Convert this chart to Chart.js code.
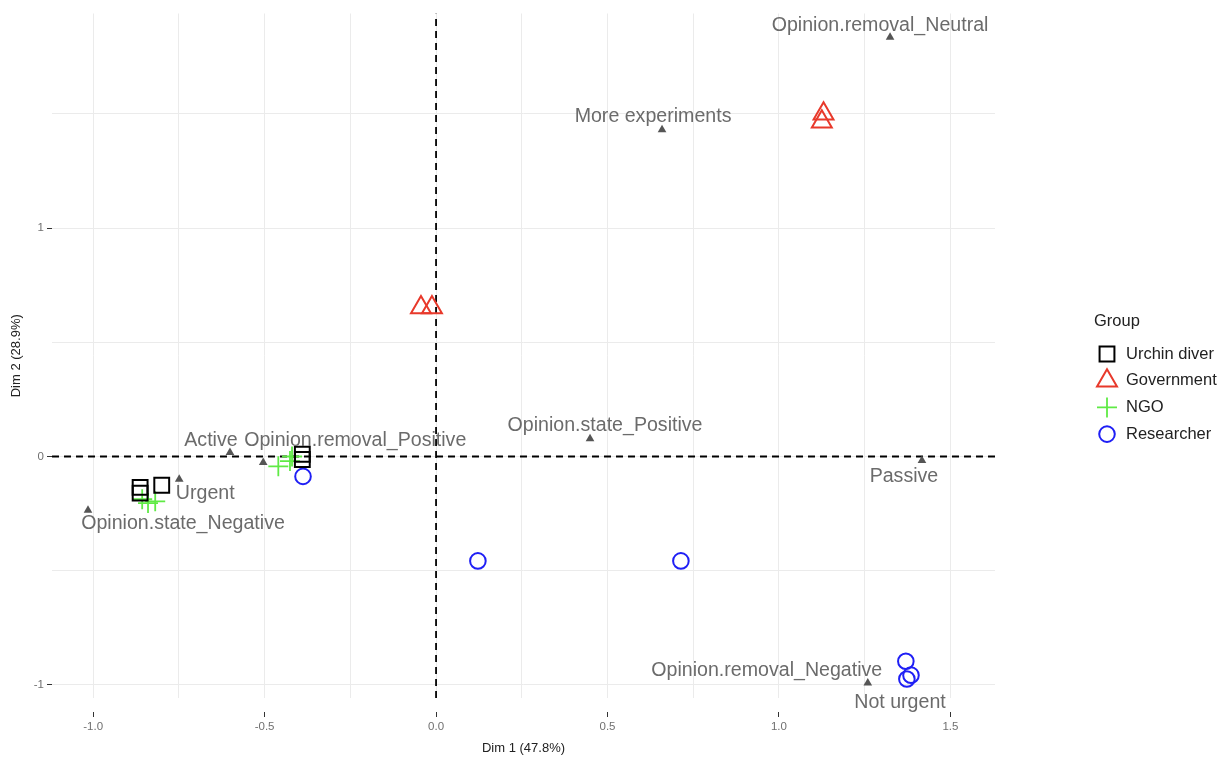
<!DOCTYPE html>
<html>
<head>
<meta charset="utf-8">
<script src="https://cdn.jsdelivr.net/npm/chart.js@4.4.1/dist/chart.umd.min.js"></script>
<style>
  html, body { margin: 0; padding: 0; background: #fff; }
  #wrap { width: 1225px; height: 761px; position: relative; }
</style>
</head>
<body>
<div id="wrap"><canvas id="pca"></canvas></div>
<script>
// individuals (Dim 1, Dim 2), one pair of arrays per group
const urchinX = [-0.863, -0.863, -0.800, -0.390, -0.390];
const urchinY = [-0.135, -0.160, -0.126, 0.010, -0.013];
const govX = [1.130, 1.125, -0.044, -0.012];
const govY = [1.500, 1.465, 0.652, 0.652];
const ngoX = [-0.857, -0.840, -0.819, -0.460, -0.426, -0.420];
const ngoY = [-0.187, -0.204, -0.196, -0.043, -0.020, 0.000];
const resX = [-0.388, 0.122, 0.714, 1.370, 1.385, 1.373];
const resY = [-0.087, -0.457, -0.457, -0.896, -0.957, -0.974];

// variable categories
const varNames = ["Opinion.removal_Neutral", "More experiments", "Opinion.state_Positive", "Passive",
  "Active", "Opinion.removal_Positive", "Urgent", "Opinion.state_Negative",
  "Opinion.removal_Negative", "Not urgent"];
const varX = [1.324, 0.659, 0.449, 1.417, -0.601, -0.504, -0.749, -1.015, 1.259, 1.315];
const varY = [1.835, 1.430, 0.078, -0.017, 0.017, -0.026, -0.100, -0.235, -0.991, -1.117];

// label nudges (px) so the texts sit like the repelled labels
const labelDx = [-10, -9, 15, -18, -19, 92, 26, 95, -101, 13];
const labelDy = [-12, -13, -13, 16, -12, -22, 14, 13, -12, -9];

const xTicks = [-1.0, -0.5, 0.0, 0.5, 1.0, 1.5];
const yTicks = [-1, 0, 1];
const xGrid = [-1, -0.75, -0.5, -0.25, 0, 0.25, 0.5, 0.75, 1, 1.25, 1.5];
const yGrid = [-1, -0.5, 0, 0.5, 1, 1.5];
const xRange = [-1.12, 1.63];
const yRange = [-1.057, 1.939];

const pts = (xs, ys) => xs.map((x, i) => ({ x: x, y: ys[i] }));

const groups = [
  { label: "Urchin diver", data: pts(urchinX, urchinY), color: "#000000", style: "rect", r: 10.5, w: 2 },
  { label: "Government", data: pts(govX, govY), color: "#e8392b", style: "triangle", r: 11.5, w: 2 },
  { label: "NGO", data: pts(ngoX, ngoY), color: "#5fea45", style: "cross", r: 10, w: 1.8 },
  { label: "Researcher", data: pts(resX, resY), color: "#1f1ff5", style: "circle", r: 7.8, w: 2 }
];

const datasets = groups.map(g => ({
  label: g.label,
  data: g.data,
  pointStyle: g.style,
  pointRadius: g.r,
  pointBorderWidth: g.w,
  pointBorderColor: g.color,
  pointBackgroundColor: "rgba(0,0,0,0)"
}));

datasets.push({
  label: "variables",
  data: pts(varX, varY),
  pointStyle: "triangle",
  pointRadius: 5,
  pointBorderWidth: 0,
  pointBackgroundColor: "#555555",
  clip: false
});
datasets.push({
  label: "h0",
  data: [{ x: xRange[0], y: 0 }, { x: xRange[1], y: 0 }],
  showLine: true, pointRadius: 0, borderColor: "#000", borderWidth: 1.8, borderDash: [7, 5]
});
datasets.push({
  label: "v0",
  data: [{ x: 0, y: yRange[0] }, { x: 0, y: yRange[1] }],
  showLine: true, pointRadius: 0, borderColor: "#000", borderWidth: 1.8, borderDash: [7, 5]
});

const VAR_INDEX = 4;

const varLabels = {
  id: "varLabels",
  afterDatasetsDraw(chart) {
    const meta = chart.getDatasetMeta(VAR_INDEX);
    const ctx = chart.ctx;
    ctx.save();
    ctx.font = '19.6px "Liberation Sans", Arial, sans-serif';
    ctx.fillStyle = "#6b6b6b";
    ctx.textAlign = "center";
    ctx.textBaseline = "middle";
    meta.data.forEach((p, i) => {
      ctx.fillText(varNames[i], p.x + labelDx[i], p.y + labelDy[i]);
    });
    ctx.restore();
  }
};

const groupLegend = {
  id: "groupLegend",
  afterDraw(chart) {
    const ctx = chart.ctx;
    const left = chart.chartArea.right + 99;
    const top = 321;
    ctx.save();
    ctx.fillStyle = "#222";
    ctx.font = '16.5px "Liberation Sans", Arial, sans-serif';
    ctx.textBaseline = "middle";
    ctx.textAlign = "left";
    ctx.fillText("Group", left, top);
    groups.forEach((g, i) => {
      const y = top + 33 + i * 26.7;
      ctx.strokeStyle = g.color;
      ctx.fillStyle = "rgba(0,0,0,0)";
      ctx.lineWidth = g.w;
      Chart.helpers.drawPoint(ctx, { pointStyle: g.style, radius: g.r, rotation: 0, borderWidth: g.w }, left + 13, y);
      ctx.fillStyle = "#222";
      ctx.fillText(g.label, left + 32, y);
    });
    ctx.restore();
  }
};

const tickFont = { family: '"Liberation Sans", Arial, sans-serif', size: 11.5 };
const titleFont = { family: '"Liberation Sans", Arial, sans-serif', size: 13 };

new Chart(document.getElementById("pca"), {
  type: "scatter",
  data: { datasets: datasets },
  plugins: [varLabels, groupLegend],
  options: {
    responsive: true,
    maintainAspectRatio: false,
    animation: false,
    events: [],
    layout: { padding: { top: 9, right: 230, left: 0, bottom: 0 } },
    plugins: { legend: { display: false }, tooltip: { enabled: false } },
    scales: {
      x: {
        type: "linear",
        min: xRange[0],
        max: xRange[1],
        afterBuildTicks: axis => { axis.ticks = xGrid.map(v => ({ value: v })); },
        afterFit: scale => { scale.height = 63; },
        border: { display: false },
        grid: {
          color: "#ebebeb",
          lineWidth: 1,
          tickLength: 19,
          tickBorderDash: [0, 14, 5, 60],
          tickColor: c => xTicks.includes(c.tick.value) ? "#333" : "rgba(0,0,0,0)"
        },
        ticks: {
          autoSkip: false,
          maxRotation: 0,
          padding: 3,
          color: "#707070",
          font: tickFont,
          callback: v => xTicks.includes(v) ? v.toFixed(1) : ""
        },
        title: { display: true, text: "Dim 1 (47.8%)", color: "#222", font: titleFont, padding: { top: 0, bottom: 5 } }
      },
      y: {
        type: "linear",
        min: yRange[0],
        max: yRange[1],
        afterBuildTicks: axis => { axis.ticks = yGrid.map(v => ({ value: v })); },
        afterFit: scale => { scale.width = 52; },
        border: { display: false },
        grid: {
          color: "#ebebeb",
          lineWidth: 1,
          tickLength: 5,
          tickColor: c => yTicks.includes(c.tick.value) ? "#333" : "rgba(0,0,0,0)"
        },
        ticks: {
          autoSkip: false,
          padding: 3,
          color: "#707070",
          font: tickFont,
          callback: v => yTicks.includes(v) ? String(v) : ""
        },
        title: { display: true, text: "Dim 2 (28.9%)", color: "#222", font: titleFont, padding: { top: 9, bottom: 0 } }
      }
    }
  }
});
</script>
</body>
</html>
